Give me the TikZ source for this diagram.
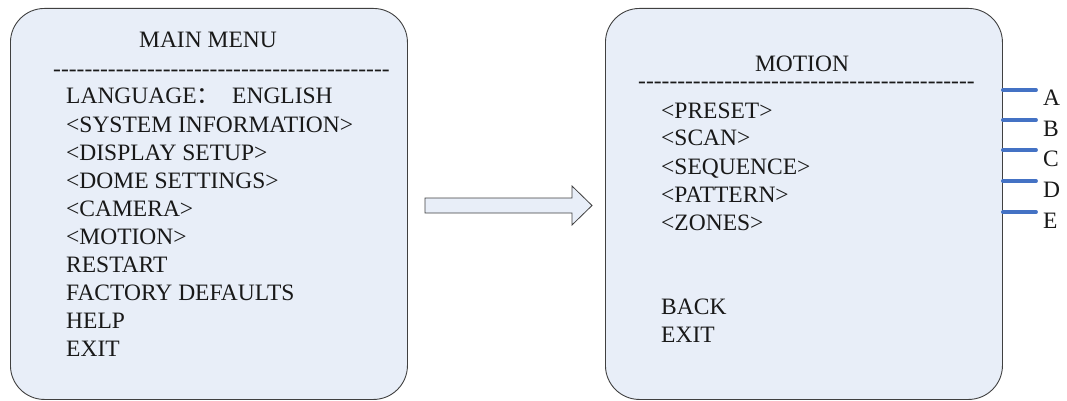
\documentclass[tikz,border=0pt]{standalone}
\usepackage{fontspec}
\setmainfont{Liberation Serif}
\newfontfamily\cjk{Noto Sans CJK SC}
\usepackage{tikz}
\usetikzlibrary{arrows.meta,positioning,calc}

\definecolor{menufill}{RGB}{232,238,248}
\definecolor{menuedge}{RGB}{64,64,64}
\definecolor{tagblue}{RGB}{68,114,196}

\newcommand{\dashrow}{-{}-{}-{}-{}-{}-{}-{}-{}-{}-{}-{}-{}-{}-{}-{}-{}-{}-{}-{}-{}-{}-{}-{}-{}-{}-{}-{}-{}-{}-{}-{}-{}-{}-{}-{}-{}-{}-{}-{}-{}-{}-{}-}

\tikzset{
  menubox/.style={draw=menuedge, line width=0.9pt, fill=menufill, rounded corners=34pt,
    anchor=north west, minimum width=397pt, minimum height=391pt, inner sep=0pt},
  menutext/.style={anchor=base west, inner sep=0pt, text=black!90, font=\fontsize{23.5}{28}\selectfont},
  menutitle/.style={menutext, anchor=base},
  tagline/.style={draw=tagblue, line width=3.8pt, line cap=round},
  bigarrow/.style={draw=menuedge, line width=0.8pt, fill=menufill}
}

\begin{document}
\begin{tikzpicture}[x=1pt, y=-1pt]
    \useasboundingbox (0,0) rectangle (1067,401);
    % main menu
    \node[menubox] (mainbox) at (10,8) {};
    \node[menutitle] (maintitle) at (208,48) {MAIN MENU};
    \node[menutext] (mainrule) at (53,77) {\dashrow};
    \node[menutext] (mainlang) at (66,104) {\makebox[166pt][l]{LANGUAGE{\cjk ：}}ENGLISH};
    \foreach \item [count=\i] in {<SYSTEM INFORMATION>, <DISPLAY SETUP>, <DOME SETTINGS>,
        <CAMERA>, <MOTION>, RESTART, FACTORY DEFAULTS, HELP, EXIT}
      \node[menutext] (mainitem\i) at (66,104+28*\i) {\item};
    % arrow
    \draw[bigarrow] (425,198) -- (572,198) -- (572,186) -- (592,205.5)
      -- (572,225) -- (572,213) -- (425,213) -- cycle;
    % motion
    \node[menubox] (motionbox) at (605,8) {};
    \node[menutitle] (motiontitle) at (802,72) {MOTION};
    \node[menutext] (motionrule) at (638,89) {\dashrow};
    \foreach \item/\tag/\ty [count=\i] in {<PRESET>/A/90, <SCAN>/B/120, <SEQUENCE>/C/150,
        <PATTERN>/D/181, <ZONES>/E/212} {
      \node[menutext] (motionitem\i) at (661,90+28*\i) {\item};
      \coordinate (tagend\tag) at (1036,\ty);
      \draw[tagline] (motionbox.east |- tagend\tag) -- (tagend\tag);
      \node[menutext] (tag\tag) at (1043,\ty+16) {\tag};
    }
    \node[menutext] (motionback) at (661,314) {BACK};
    \node[menutext] (motionexit) at (661,342) {EXIT};
  \end{tikzpicture}
\end{document}
